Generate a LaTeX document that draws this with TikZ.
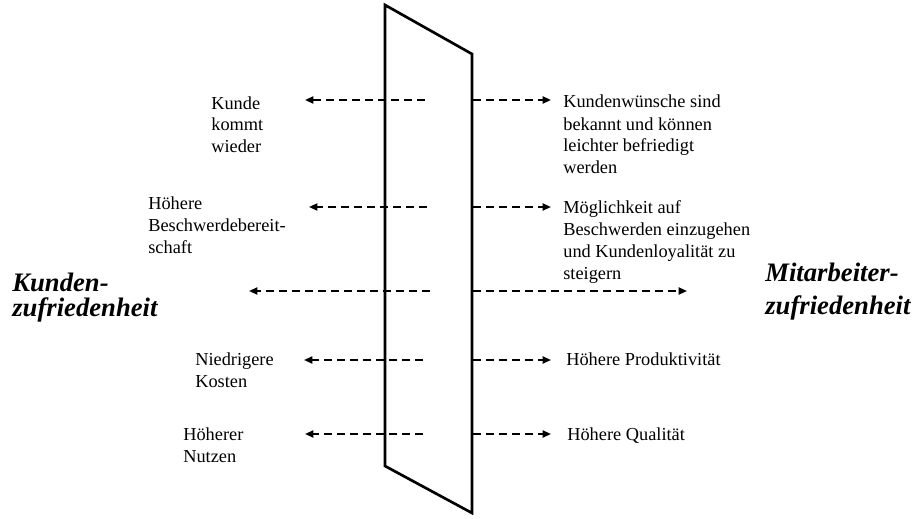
\documentclass[tikz,border=0pt]{standalone}
\usepackage{fontspec}
\setmainfont{Liberation Serif}
\usetikzlibrary{arrows.meta}
\begin{document}
\begin{tikzpicture}[x=0.6pt,y=-0.6pt,
  effect/.style={dash pattern=on 4.8pt off 3pt, line width=1.1pt,
                 -{Triangle[length=5pt,width=4.2pt]}},
  txt/.style={anchor=base west, inner sep=0pt, align=left,
              font=\fontsize{11}{13.2}\selectfont},
  goal/.style={anchor=base west, inner sep=0pt, align=left,
               font=\fontsize{16}{#1}\selectfont\bfseries\itshape},
  goal/.default=15]
\useasboundingbox (0,0) rectangle (915,518);

% the wall between the two sides
\draw[line width=1.6pt] (385,5) -- (472,54) -- (472,513) -- (385,466) -- cycle;

% outcomes on the customer side (positions give the last baseline)
\node[txt] (k1) at (211,153) {Kunde\\kommt\\wieder};
\node[txt] (k2) at (148,253) {Höhere\\Beschwerdebereit-\\schaft};
\node[goal=15] (kz) at (12,316) {Kunden-\\zufriedenheit};
\node[txt] (k4) at (195,387) {Niedrigere\\Kosten};
\node[txt] (k5) at (183,462) {Höherer\\Nutzen};

% outcomes on the employee side
\node[txt] (m1) at (563,174) {Kundenwünsche sind\\bekannt und können\\leichter befriedigt\\werden};
\node[txt] (m2) at (563,279) {Möglichkeit auf\\Beschwerden einzugehen\\und Kundenloyalität zu\\steigern};
\node[goal=19.8] (mz) at (765,314) {Mitarbeiter-\\zufriedenheit};
\node[txt] (m4) at (566,365) {Höhere Produktivität};
\node[txt] (m5) at (567,440) {Höhere Qualität};

% arrow end points
\coordinate (l1a) at (425,100); \coordinate (l1b) at (305,100);
\coordinate (l2a) at (427,207); \coordinate (l2b) at (309,207);
\coordinate (l3a) at (430,291); \coordinate (l3b) at (249,291);
\coordinate (l4a) at (423,360); \coordinate (l4b) at (304,360);
\coordinate (l5a) at (423,434); \coordinate (l5b) at (305,434);
\coordinate (r1a) at (473,100); \coordinate (r1b) at (551,100);
\coordinate (r2a) at (473,207); \coordinate (r2b) at (551,207);
\coordinate (r3a) at (473,291); \coordinate (r3b) at (687,291);
\coordinate (r4a) at (473,360); \coordinate (r4b) at (551,360);
\coordinate (r5a) at (473,434); \coordinate (r5b) at (551,434);

\foreach \s in {l,r}{
  \foreach \i in {1,...,5}{
    \draw[effect] (\s\i a) -- (\s\i b);
  }
}
\end{tikzpicture}
\end{document}
